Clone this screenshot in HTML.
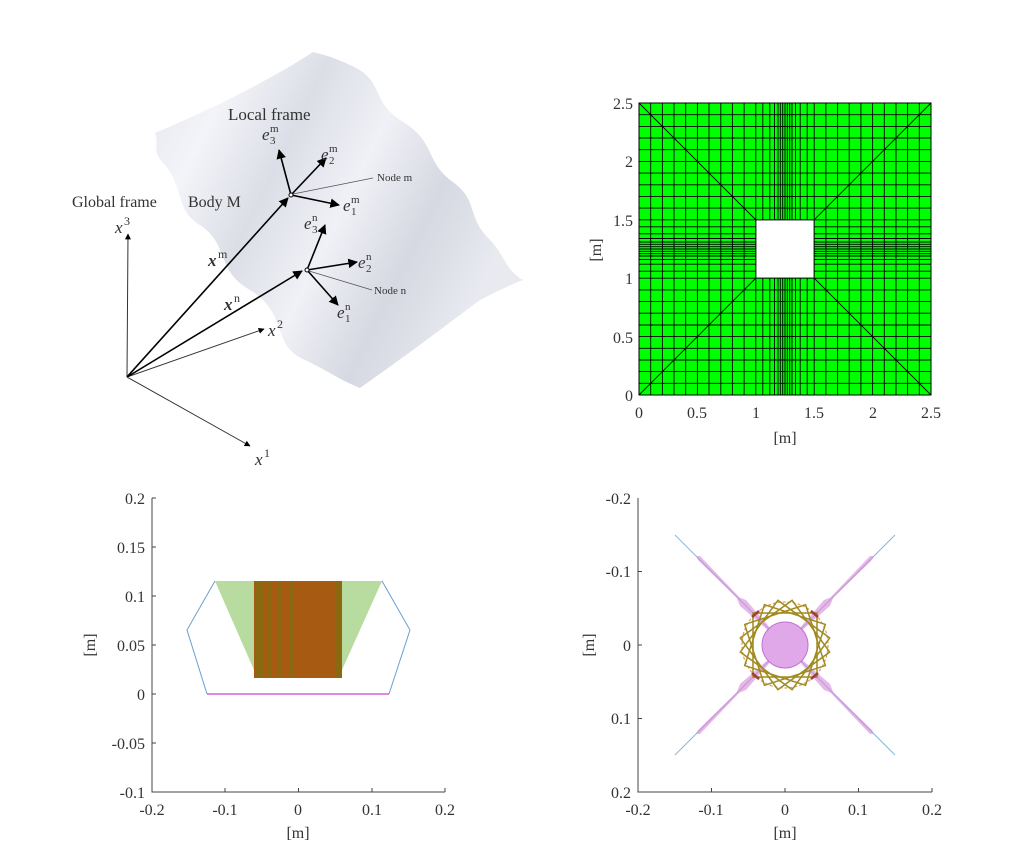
<!DOCTYPE html>
<html><head><meta charset="utf-8"><style>
html,body{margin:0;padding:0;background:#fff}
svg{display:block}
text{font-family:"Liberation Serif",serif;fill:#333}
</style></head><body>
<svg width="1024" height="853" viewBox="0 0 1024 853" xmlns="http://www.w3.org/2000/svg">
<defs>
<linearGradient id="sg" x1="0" y1="0" x2="1" y2="0.45">
<stop offset="0" stop-color="#e4e6ee"/>
<stop offset="0.2" stop-color="#f3f4f8"/>
<stop offset="0.4" stop-color="#dcdee7"/>
<stop offset="0.6" stop-color="#f0f1f6"/>
<stop offset="0.8" stop-color="#d6d8e2"/>
<stop offset="1" stop-color="#e8eaf0"/>
</linearGradient>
<marker id="ah" viewBox="0 0 10 10" refX="9" refY="5" markerWidth="6" markerHeight="6" orient="auto"><path d="M0,0L10,5L0,10z" fill="#000"/></marker>
</defs>

<!-- Top-left diagram -->
<path d="M155,133 C160,145 150,150 165,165 C185,190 175,210 200,225 C230,245 215,270 250,290 C290,315 270,345 305,360 C330,372 340,380 360,388 C400,360 440,330 480,300 C500,290 510,285 523,280 C505,270 505,255 490,240 C465,215 480,200 450,180 C425,160 435,140 400,120 C370,100 385,80 350,65 C335,58 325,55 313,52 C270,80 210,110 155,133 Z" fill="url(#sg)"/>
<g stroke="#333" stroke-width="1" fill="none">
<line x1="127" y1="377" x2="128" y2="234" marker-end="url(#ah)"/>
<line x1="127" y1="377" x2="250" y2="446" marker-end="url(#ah)"/>
<line x1="127" y1="377" x2="264" y2="329" marker-end="url(#ah)"/>
</g>
<g stroke="#000" stroke-width="1.6" fill="none">
<line x1="127" y1="377" x2="288" y2="198" marker-end="url(#ah)"/>
<line x1="127" y1="377" x2="302" y2="271" marker-end="url(#ah)"/>
<line x1="291" y1="195" x2="279" y2="150" marker-end="url(#ah)"/>
<line x1="291" y1="195" x2="326" y2="158" marker-end="url(#ah)"/>
<line x1="291" y1="195" x2="339" y2="205" marker-end="url(#ah)"/>
<line x1="307" y1="270" x2="325" y2="225" marker-end="url(#ah)"/>
<line x1="307" y1="270" x2="357" y2="262" marker-end="url(#ah)"/>
<line x1="307" y1="270" x2="338" y2="305" marker-end="url(#ah)"/>
</g>
<g stroke="#555" stroke-width="0.8">
<line x1="293" y1="194" x2="373" y2="178"/>
<line x1="309" y1="271" x2="372" y2="290"/>
</g>
<circle cx="291" cy="195" r="2" fill="#fff" stroke="#000"/>
<circle cx="307" cy="270" r="2" fill="#fff" stroke="#000"/>
<text x="228" y="120" font-size="17">Local frame</text>
<text x="72" y="207" font-size="16">Global frame</text>
<text x="188" y="207" font-size="16">Body M</text>
<text x="377" y="181" font-size="11">Node m</text>
<text x="374" y="294" font-size="11">Node n</text>
<g font-style="italic" font-size="17">
<text x="115" y="233">x</text><text x="124" y="225" font-size="12" font-style="normal">3</text>
<text x="255" y="465">x</text><text x="264" y="457" font-size="12" font-style="normal">1</text>
<text x="268" y="336">x</text><text x="277" y="328" font-size="12" font-style="normal">2</text>
<text x="208" y="266" font-weight="bold">x</text><text x="218" y="258" font-size="12" font-style="normal">m</text>
<text x="224" y="310" font-weight="bold">x</text><text x="234" y="302" font-size="12" font-style="normal">n</text>
</g>
<g font-size="11">
<text x="262" y="140" font-size="17" font-style="italic">e</text><text x="270" y="132">m</text><text x="270" y="144">3</text>
<text x="321" y="160" font-size="17" font-style="italic">e</text><text x="329" y="152">m</text><text x="329" y="164">2</text>
<text x="343" y="211" font-size="17" font-style="italic">e</text><text x="351" y="203">m</text><text x="351" y="215">1</text>
<text x="304" y="229" font-size="17" font-style="italic">e</text><text x="312" y="221">n</text><text x="312" y="233">3</text>
<text x="358" y="268" font-size="17" font-style="italic">e</text><text x="366" y="260">n</text><text x="366" y="272">2</text>
<text x="337" y="318" font-size="17" font-style="italic">e</text><text x="345" y="310">n</text><text x="345" y="322">1</text>
</g>

<!-- Top-right mesh -->
<rect x="639" y="103" width="292" height="292" fill="#00ff00"/>
<path stroke="#000" stroke-width="0.9" fill="none" d="
M650.7,103V395M662.4,103V395M674,103V395M685.7,103V395M697.4,103V395M709,103V395M720.8,103V395M732.4,103V395M744.1,103V395M755.8,103V395M762.8,103V395M769.8,103V395M774.5,103V395M778,103V395M780.3,103V395M782.7,103V395M785,103V395M787.3,103V395M789.7,103V395M792,103V395M795.5,103V395M800.2,103V395M807.2,103V395M814.2,103V395M825.9,103V395M837.6,103V395M849.2,103V395M860.9,103V395M872.6,103V395M884.3,103V395M896,103V395M907.6,103V395M919.3,103V395
M639,383.3H931M639,371.6H931M639,360H931M639,348.3H931M639,336.6H931M639,325H931M639,313.2H931M639,301.6H931M639,289.9H931M639,278.2H931M639,271.2H931M639,264.2H931M639,259.5H931M639,256H931M639,253.7H931M639,251.3H931M639,249H931M639,246.7H931M639,244.3H931M639,242H931M639,238.5H931M639,233.8H931M639,226.8H931M639,219.8H931M639,208.1H931M639,196.4H931M639,184.8H931M639,173.1H931M639,161.4H931M639,149.7H931M639,138H931M639,126.4H931M639,114.7H931
M639,395L755.8,278.2M931,103L814.2,219.8M639,103L755.8,219.8M931,395L814.2,278.2"/>
<rect x="639" y="103" width="292" height="292" fill="none" stroke="#000" stroke-width="1"/>
<rect x="756" y="220" width="58" height="58" fill="#fff" stroke="#000" stroke-width="0.8"/>
<g font-size="16" text-anchor="end">
<text x="633" y="109">2.5</text><text x="633" y="167">2</text><text x="633" y="226">1.5</text><text x="633" y="284">1</text><text x="633" y="343">0.5</text><text x="633" y="401">0</text>
</g>
<g font-size="16" text-anchor="middle">
<text x="639" y="418">0</text><text x="697" y="418">0.5</text><text x="756" y="418">1</text><text x="814" y="418">1.5</text><text x="873" y="418">2</text><text x="931" y="418">2.5</text>
<text x="785" y="443">[m]</text>
<text transform="translate(601,250) rotate(-90)">[m]</text>
</g>

<!-- Bottom-left plot -->
<polygon points="215,581 382,581 342,670 254,670" fill="#b8dca0"/>
<rect x="254" y="581" width="88" height="97" fill="#a65a12"/>
<g fill="#7f7010" opacity="0.7">
<rect x="256" y="581" width="7" height="97"/><rect x="268" y="581" width="4" height="97"/><rect x="278" y="581" width="3" height="97"/><rect x="290" y="581" width="4" height="97"/><rect x="335" y="581" width="6" height="97"/>
</g>
<polyline points="207,694 187,630 215,581" fill="none" stroke="#6a9ed0" stroke-width="1"/>
<polyline points="382,581 410,630 389,694" fill="none" stroke="#6a9ed0" stroke-width="1"/>
<line x1="207" y1="694" x2="389" y2="694" stroke="#d040d0" stroke-width="1.2"/>
<path d="M152,498V792H445" fill="none" stroke="#444" stroke-width="1"/>
<path d="M152,498h4M152,547h4M152,596h4M152,645h4M152,694h4M152,743h4M225,792v-4M298.5,792v-4M372,792v-4M445,792v-4" stroke="#444"/>
<g font-size="16" text-anchor="end">
<text x="145" y="504">0.2</text><text x="145" y="553">0.15</text><text x="145" y="602">0.1</text><text x="145" y="651">0.05</text><text x="145" y="700">0</text><text x="145" y="749">-0.05</text><text x="145" y="798">-0.1</text>
</g>
<g font-size="16" text-anchor="middle">
<text x="152" y="815">-0.2</text><text x="225" y="815">-0.1</text><text x="298" y="815">0</text><text x="372" y="815">0.1</text><text x="445" y="815">0.2</text>
<text x="298" y="838">[m]</text>
<text transform="translate(95,645) rotate(-90)">[m]</text>
</g>

<!-- Bottom-right plot -->
<g stroke="#8ab8d8" stroke-width="1">
<line x1="675" y1="535" x2="895" y2="755"/><line x1="895" y1="535" x2="675" y2="755"/>
</g>
<g fill="#d888d8" opacity="0.6">
<polygon points="785,645 700,556 696,556 698,560"/>
<polygon points="785,645 870,556 874,556 872,560"/>
<polygon points="785,645 700,734 696,734 698,730"/>
<polygon points="785,645 870,734 874,734 872,730"/>
<polygon points="785,645 746,600 736,596 740,606"/>
<polygon points="785,645 824,600 834,596 830,606"/>
<polygon points="785,645 746,690 736,694 740,684"/>
<polygon points="785,645 824,690 834,694 830,684"/>
</g>
<circle cx="785" cy="645" r="23" fill="#e0a8e8" stroke="#c070d0" stroke-width="1"/>
<g transform="translate(785,645)" fill="none">
<circle r="43" stroke="#d8a060" stroke-width="1.2" stroke-dasharray="3 2"/>
<g stroke="#a08a20" stroke-width="1.5">
<rect x="-32" y="-32" width="64" height="64"/>
<rect x="-32" y="-32" width="64" height="64" transform="rotate(18)"/>
<rect x="-32" y="-32" width="64" height="64" transform="rotate(36)"/>
<rect x="-32" y="-32" width="64" height="64" transform="rotate(54)"/>
<rect x="-32" y="-32" width="64" height="64" transform="rotate(72)"/>
</g>
<g stroke="#a04030" stroke-width="2.5">
<line x1="-33" y1="-28" x2="-26" y2="-34"/><line x1="33" y1="-28" x2="26" y2="-34"/>
<line x1="-33" y1="28" x2="-26" y2="34"/><line x1="33" y1="28" x2="26" y2="34"/>
</g>
</g>
<path d="M638,498V792H932" fill="none" stroke="#444" stroke-width="1"/>
<path d="M638,571.5h4M638,645h4M638,718.5h4M711.5,792v-4M785,792v-4M858.5,792v-4M932,792v-4" stroke="#444"/>
<g font-size="16" text-anchor="end">
<text x="631" y="504">-0.2</text><text x="631" y="577">-0.1</text><text x="631" y="651">0</text><text x="631" y="724">0.1</text><text x="631" y="798">0.2</text>
</g>
<g font-size="16" text-anchor="middle">
<text x="638" y="815">-0.2</text><text x="711" y="815">-0.1</text><text x="785" y="815">0</text><text x="858" y="815">0.1</text><text x="932" y="815">0.2</text>
<text x="785" y="838">[m]</text>
<text transform="translate(594,645) rotate(-90)">[m]</text>
</g>
</svg>
</body></html>
